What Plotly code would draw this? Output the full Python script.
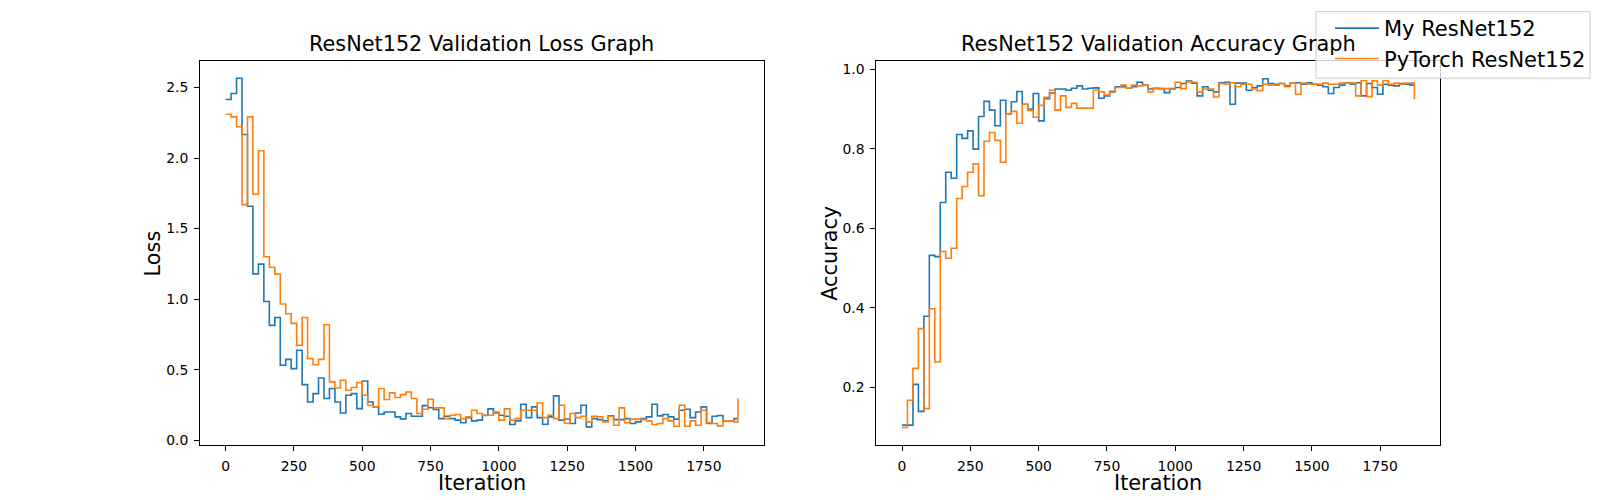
import plotly.graph_objects as go

iterations = [0, 20, 40, 60, 80, 100, 120, 140, 160, 180, 200, 220, 240, 260, 280, 300, 320, 340, 360, 380,
              400, 420, 440, 460, 480, 500, 520, 540, 560, 580, 600, 620, 640, 660, 680, 700, 720, 740, 760, 780,
              800, 820, 840, 860, 880, 900, 920, 940, 960, 980, 1000, 1020, 1040, 1060, 1080, 1100, 1120, 1140,
              1160, 1180, 1200, 1220, 1240, 1260, 1280, 1300, 1320, 1340, 1360, 1380, 1400, 1420, 1440, 1460,
              1480, 1500, 1520, 1540, 1560, 1580, 1600, 1620, 1640, 1660, 1680, 1700, 1720, 1740, 1760, 1780,
              1800, 1820, 1840, 1860, 1875]

loss_my = [2.415, 2.458, 2.566, 2.167, 1.658, 1.179, 1.248, 0.983, 0.814, 0.870,
           0.531, 0.573, 0.507, 0.637, 0.394, 0.271, 0.330, 0.441, 0.295, 0.366,
           0.271, 0.193, 0.318, 0.330, 0.224, 0.420, 0.271, 0.236, 0.184, 0.200,
           0.200, 0.165, 0.151, 0.189, 0.170, 0.170, 0.245, 0.231, 0.217, 0.153,
           0.170, 0.153, 0.142, 0.123, 0.160, 0.137, 0.142, 0.177, 0.222, 0.193,
           0.177, 0.170, 0.111, 0.137, 0.255, 0.160, 0.236, 0.160, 0.113, 0.165,
           0.314, 0.142, 0.150, 0.118, 0.193, 0.248, 0.094, 0.153, 0.146, 0.137,
           0.172, 0.146, 0.146, 0.153, 0.118, 0.130, 0.153, 0.165, 0.255, 0.172,
           0.182, 0.165, 0.149, 0.212, 0.219, 0.160, 0.200, 0.236, 0.118, 0.170,
           0.175, 0.137, 0.137, 0.153, 0.153]

loss_pt = [2.311, 2.292, 2.222, 1.670, 2.292, 1.743, 2.052, 1.300, 1.226, 1.177,
           0.965, 0.896, 0.828, 0.672, 0.870, 0.578, 0.535, 0.573, 0.818, 0.413,
           0.370, 0.425, 0.354, 0.373, 0.408, 0.318, 0.248, 0.236, 0.366, 0.288,
           0.335, 0.302, 0.323, 0.342, 0.295, 0.189, 0.219, 0.290, 0.229, 0.229,
           0.153, 0.177, 0.182, 0.153, 0.165, 0.212, 0.189, 0.175, 0.177, 0.200,
           0.142, 0.222, 0.142, 0.153, 0.212, 0.212, 0.212, 0.264, 0.160, 0.177,
           0.153, 0.248, 0.120, 0.189, 0.160, 0.170, 0.130, 0.170, 0.165, 0.130,
           0.170, 0.106, 0.229, 0.123, 0.149, 0.149, 0.146, 0.137, 0.111, 0.118,
           0.153, 0.137, 0.099, 0.248, 0.099, 0.137, 0.106, 0.212, 0.123, 0.118,
           0.101, 0.137, 0.137, 0.130, 0.295]

acc_my = [0.1055, 0.1055, 0.208, 0.140, 0.379, 0.532, 0.529, 0.665, 0.741, 0.726,
          0.836, 0.826, 0.845, 0.799, 0.881, 0.919, 0.897, 0.858, 0.922, 0.887,
          0.918, 0.944, 0.912, 0.900, 0.939, 0.870, 0.926, 0.940, 0.950, 0.950,
          0.947, 0.952, 0.958, 0.950, 0.952, 0.953, 0.927, 0.933, 0.943, 0.956,
          0.956, 0.952, 0.956, 0.967, 0.960, 0.950, 0.952, 0.951, 0.941, 0.951,
          0.954, 0.964, 0.970, 0.965, 0.933, 0.956, 0.947, 0.943, 0.966, 0.967,
          0.912, 0.965, 0.965, 0.947, 0.954, 0.958, 0.976, 0.964, 0.962, 0.964,
          0.958, 0.965, 0.966, 0.962, 0.966, 0.962, 0.960, 0.956, 0.939, 0.954,
          0.960, 0.965, 0.962, 0.966, 0.933, 0.964, 0.954, 0.937, 0.962, 0.960,
          0.958, 0.964, 0.962, 0.960, 0.960]

acc_pt = [0.0995, 0.168, 0.248, 0.348, 0.147, 0.398, 0.264, 0.542, 0.525, 0.550,
          0.675, 0.705, 0.741, 0.762, 0.682, 0.819, 0.841, 0.821, 0.766, 0.887,
          0.894, 0.864, 0.912, 0.896, 0.879, 0.909, 0.929, 0.947, 0.897, 0.933,
          0.904, 0.914, 0.902, 0.902, 0.902, 0.947, 0.943, 0.935, 0.945, 0.954,
          0.960, 0.952, 0.960, 0.958, 0.960, 0.943, 0.951, 0.951, 0.951, 0.950,
          0.967, 0.951, 0.968, 0.967, 0.943, 0.950, 0.950, 0.930, 0.964, 0.962,
          0.966, 0.956, 0.962, 0.962, 0.950, 0.946, 0.962, 0.960, 0.960, 0.964,
          0.956, 0.965, 0.937, 0.965, 0.962, 0.962, 0.962, 0.965, 0.962, 0.962,
          0.965, 0.965, 0.966, 0.933, 0.971, 0.931, 0.971, 0.960, 0.971, 0.962,
          0.965, 0.962, 0.965, 0.965, 0.925]

series_names = ["My ResNet152", "PyTorch ResNet152"]
x_ticks = [0, 250, 500, 750, 1000, 1250, 1500, 1750]
loss_ticks = [0.0, 0.5, 1.0, 1.5, 2.0, 2.5]
acc_ticks = [0.2, 0.4, 0.6, 0.8, 1.0]

BLUE = "#1f77b4"
ORANGE = "#ff7f0e"
FONT = "DejaVu Sans"

# page has an 8px body margin: figure is 1592x492 and placed at (8, 8)
W, H = 1592, 492
OFF = 8


def px_x(v):
    return (v - OFF) / W


def px_y(v):
    return 1 - (v - OFF) / H


fig = go.Figure()
fig.add_trace(go.Scatter(x=iterations, y=loss_my, mode="lines", line=dict(color=BLUE, width=1.6, shape="hv"),
                         name=series_names[0], xaxis="x", yaxis="y", showlegend=True))
fig.add_trace(go.Scatter(x=iterations, y=loss_pt, mode="lines", line=dict(color=ORANGE, width=1.6, shape="hv"),
                         name=series_names[1], xaxis="x", yaxis="y", showlegend=True))
fig.add_trace(go.Scatter(x=iterations, y=acc_my, mode="lines", line=dict(color=BLUE, width=1.6, shape="hv"),
                         name=series_names[0], xaxis="x2", yaxis="y2", showlegend=False))
fig.add_trace(go.Scatter(x=iterations, y=acc_pt, mode="lines", line=dict(color=ORANGE, width=1.6, shape="hv"),
                         name=series_names[1], xaxis="x2", yaxis="y2", showlegend=False))

axis_common = dict(showline=True, mirror=True, linecolor="black", linewidth=1, ticks="outside", ticklen=5,
                   tickwidth=1, tickcolor="black", showgrid=False, zeroline=False, automargin=False,
                   tickfont=dict(family=FONT, size=13.9, color="black"), ticklabelstandoff=3)

L1, R1 = px_x(200), px_x(763.6)
L2, R2 = px_x(876.4), px_x(1440)
B, T = px_y(445), px_y(60)

xr = [-93.75, 1968.75]
fig.update_layout(
    width=W, height=H, autosize=False,
    margin=dict(l=0, r=0, t=0, b=0),
    paper_bgcolor="white", plot_bgcolor="white",
    font=dict(family=FONT, color="black"),
    xaxis=dict(domain=[L1, R1], range=xr, tickvals=x_ticks, anchor="y", **axis_common),
    yaxis=dict(domain=[B, T], range=[-0.035, 2.689], tickvals=loss_ticks,
               ticktext=[f"{v:.1f}" for v in loss_ticks], anchor="x", **axis_common),
    xaxis2=dict(domain=[L2, R2], range=xr, tickvals=x_ticks, anchor="y2", **axis_common),
    yaxis2=dict(domain=[B, T], range=[0.0553, 1.0208], tickvals=acc_ticks,
                ticktext=[f"{v:.1f}" for v in acc_ticks], anchor="x2", **axis_common),
    legend=dict(x=px_x(1591), y=px_y(7), xanchor="right", yanchor="top",
                bgcolor="rgba(0,0,0,0)", borderwidth=0,
                font=dict(family=FONT, size=21, color="black"), itemwidth=44, tracegroupgap=0),
    showlegend=True,
)

# legend frame (semi-transparent white box with light grey edge)
fig.add_shape(type="rect", xref="paper", yref="paper",
              x0=px_x(1316), x1=px_x(1590), y0=px_y(77.3), y1=px_y(10.7),
              fillcolor="rgba(255,255,255,0.8)", line=dict(color="#cccccc", width=1), layer="above")

c1, c2 = (L1 + R1) / 2, (L2 + R2) / 2
ymid = (B + T) / 2
annotations = [
    dict(text="ResNet152 Validation Loss Graph", x=c1, y=T, xref="paper", yref="paper",
         xanchor="center", yanchor="bottom", yshift=3, showarrow=False, font=dict(family=FONT, size=20.8)),
    dict(text="ResNet152 Validation Accuracy Graph", x=c2, y=T, xref="paper", yref="paper",
         xanchor="center", yanchor="bottom", yshift=3, showarrow=False, font=dict(family=FONT, size=20.8)),
    dict(text="Iteration", x=c1, y=px_y(482.7), xref="paper", yref="paper", xanchor="center", yanchor="middle",
         showarrow=False, font=dict(family=FONT, size=20.8)),
    dict(text="Iteration", x=c2, y=px_y(482.7), xref="paper", yref="paper", xanchor="center", yanchor="middle",
         showarrow=False, font=dict(family=FONT, size=20.8)),
    dict(text="Loss", x=px_x(153.4), y=ymid, xref="paper", yref="paper", xanchor="center", yanchor="middle",
         textangle=-90, showarrow=False, font=dict(family=FONT, size=20.8)),
    dict(text="Accuracy", x=px_x(829.8), y=ymid, xref="paper", yref="paper", xanchor="center", yanchor="middle",
         textangle=-90, showarrow=False, font=dict(family=FONT, size=20.8)),
]
fig.update_layout(annotations=annotations)

fig.write_html("out.html")
